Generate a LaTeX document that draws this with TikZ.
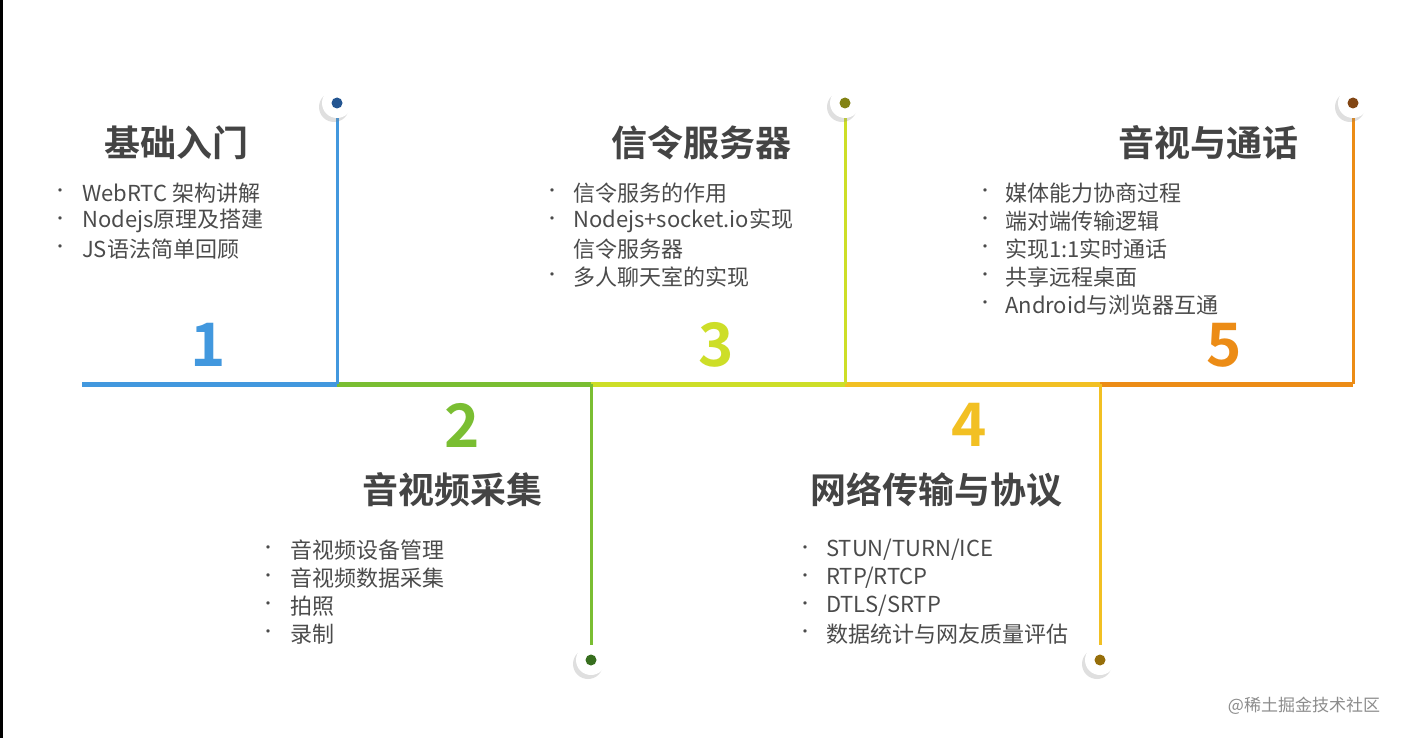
\documentclass[tikz,border=0pt]{standalone}
\usepackage{fontspec}
\setmainfont{Noto Sans CJK SC}
\newfontfamily\cjkb{Noto Sans CJK SC Bold}
\usetikzlibrary{shadows}
\definecolor{cA}{RGB}{66,152,222}\definecolor{dA}{RGB}{35,85,145}
\definecolor{cB}{RGB}{122,190,50}\definecolor{dB}{RGB}{55,110,30}
\definecolor{cC}{RGB}{205,222,40}\definecolor{dC}{RGB}{130,130,20}
\definecolor{cD}{RGB}{242,192,35}\definecolor{dD}{RGB}{150,110,10}
\definecolor{cE}{RGB}{236,140,22}\definecolor{dE}{RGB}{130,70,20}
\definecolor{txt}{RGB}{75,75,75}
\begin{document}
\begin{tikzpicture}[x=1pt,y=-1pt,
  seg/.style={line width=5pt},
  pin/.style={circle,fill=white,minimum size=30pt,inner sep=0pt,drop shadow={shadow xshift=-3pt,shadow yshift=-4pt,opacity=0.25}},
  ttl/.style={font=\cjkb\fontsize{36}{40}\selectfont,text=txt!90!black},
  num/.style={font=\cjkb\fontsize{60}{64}\selectfont},
  itm/.style={anchor=west,font=\fontsize{22}{26}\selectfont,text=txt,inner sep=0pt},
  bul/.style={anchor=center,font=\fontsize{16}{18}\selectfont,text=txt,inner sep=0pt}]
\fill[white] (0,0) rectangle (1405,738);
\useasboundingbox (0,0) rectangle (1405,738);
\fill[black] (0,0) rectangle (2.5,738);
% timeline
\coordinate (s0) at (82,384);\coordinate (s1) at (337,384);\coordinate (s2) at (591,384);
\coordinate (s3) at (845,384);\coordinate (s4) at (1100,384);\coordinate (s5) at (1353,384);
\draw[seg,cA] (s0)--(s1);\draw[seg,cB] (s1)--(s2);\draw[seg,cC] (s2)--(s3);
\draw[seg,cD] (s3)--(s4);\draw[seg,cE] (s4)--(s5);
\draw[line width=3pt,cA] (s1)--(337,105);
\draw[line width=3pt,cB] (s2)--(591,660);
\draw[line width=3pt,cC] (s3)--(845,105);
\draw[line width=3pt,cD] (s4)--(1100,660);
\draw[line width=3pt,cE] (s5)--(1353,105);
\foreach \x/\y/\c/\n in {337/103/dA/p1,591/660/dB/p2,845/103/dC/p3,1100/660/dD/p4,1353/103/dE/p5}{
  \node[pin] (\n) at (\x,\y) {};
  \fill[\c] (\n) circle (5.5pt);
}
% numbers
\node[num,text=cA] (n1) at (208,345) {1};
\node[num,text=cB] (n2) at (462,425) {2};
\node[num,text=cC] (n3) at (716,345) {3};
\node[num,text=cD] (n4) at (969,425) {4};
\node[num,text=cE] (n5) at (1224,345) {5};
% titles
\node[ttl] (t1) at (176,143) {基础入门};
\node[ttl] (t3) at (701,143) {信令服务器};
\node[ttl] (t5) at (1208,143) {音视与通话};
\node[ttl] (t2) at (452,490) {音视频采集};
\node[ttl] (t4) at (936,490) {网络传输与协议};
% items
\foreach \t [count=\i] in {WebRTC 架构讲解,Nodejs原理及搭建,JS语法简单回顾}{
  \node[bul] (b1\i) at (60,165+28*\i) {•};
  \node[itm] (i1\i) at (82,165+28*\i) {\t};}
\node[bul] (b31) at (552,193) {•};\node[itm] (i31) at (573,193) {信令服务的作用};
\node[bul] (b32) at (552,221) {•};\node[itm] (i32) at (573,221) {Nodejs+socket.io实现};
\node[itm] (i32b) at (573,249) {信令服务器};
\node[bul] (b33) at (552,277) {•};\node[itm] (i33) at (573,277) {多人聊天室的实现};
\foreach \t [count=\i] in {媒体能力协商过程,端对端传输逻辑,实现1:1实时通话,共享远程桌面,Android与浏览器互通}{
  \node[bul] (b5\i) at (985,165+28*\i) {•};
  \node[itm] (i5\i) at (1005,165+28*\i) {\t};}
\foreach \t [count=\i] in {音视频设备管理,音视频数据采集,拍照,录制}{
  \node[bul] (b2\i) at (268,522+28*\i) {•};
  \node[itm] (i2\i) at (290,522+28*\i) {\t};}
\foreach \t [count=\i] in {STUN/TURN/ICE,RTP/RTCP,DTLS/SRTP,数据统计与网友质量评估}{
  \node[bul] (b4\i) at (805,522+28*\i) {•};
  \node[itm] (i4\i) at (826,522+28*\i) {\t};}
\node[font=\fontsize{17}{20}\selectfont,text=black!45] (wm) at (1304,706) {@稀土掘金技术社区};
\end{tikzpicture}
\end{document}
